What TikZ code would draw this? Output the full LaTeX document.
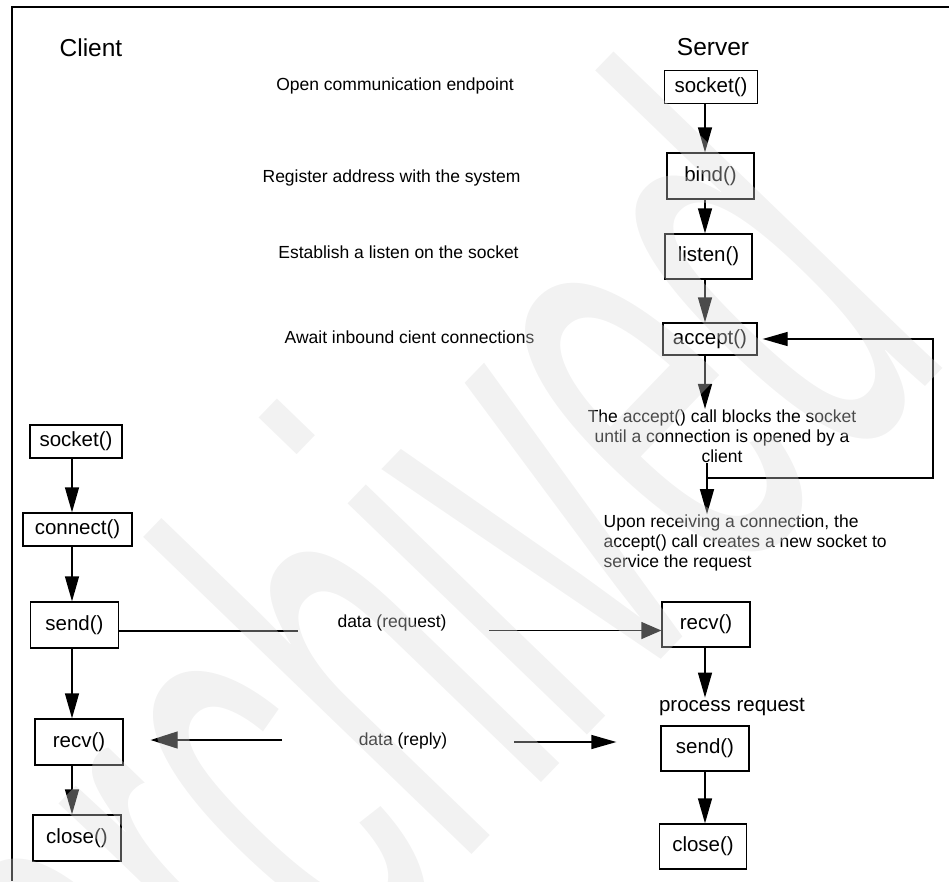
\documentclass[tikz,border=0pt]{standalone}
\usepackage{fontspec}
\setmainfont{Liberation Sans}
\usetikzlibrary{arrows.meta,calc}
\definecolor{wmark}{gray}{0.85}

\begin{document}
\begin{tikzpicture}[x=1pt,y=-1pt,line width=1.3pt,
  >={Triangle[length=25pt,width=14pt]},
  call/.style={draw,inner sep=0pt,font=\fontsize{20.5}{24}\selectfont},
  note/.style={inner sep=0pt,font=\fontsize{17.5}{20}\selectfont},
  head/.style={inner sep=0pt,font=\fontsize{24.5}{28}\selectfont}]
  \useasboundingbox (0,0) rectangle (949,881);
  \draw (949,7) -- (12,7) -- (12,881);
  \coordinate (sax) at (705,0); \coordinate (cax) at (72,0);

  % titles and notes
  \node[head] (chead) at (91,48) {Client};
  \node[head] (shead) at (713,47) {Server};
  \node[note] (n1) at (395,86) {Open communication endpoint};
  \node[note] (n2) at (391.5,178) {Register address with the system};
  \node[note] (n3) at (398.5,252) {Establish a listen on the socket};
  \node[note] (n4) at (409.5,337) {Await inbound cient connections};

  % server side
  \node[call,minimum width=93pt,minimum height=33pt] (ssock) at (711,87) {socket()};
  \node[call,minimum width=87pt,minimum height=46pt] (sbind) at (710.5,176) {bind()};
  \node[call,minimum width=87pt,minimum height=45pt] (slisten) at (708.5,256.5) {listen()};
  \node[call,minimum width=94pt,minimum height=32pt] (saccept) at (710,339) {accept()};
  \node[note,align=center] (sblock) at (722,436) {The accept() call blocks the socket\\until a connection is opened by a\\client};
  \node[note,align=left,anchor=west] (snew) at (603,543) {Upon receiving a connection, the\\accept() call creates a new socket to\\service the request};
  \node[call,minimum width=88pt,minimum height=45pt] (srecv) at (706,624.5) {recv()};
  \node[call,draw=none] (sproc) at (732,707) {process request};
  \node[call,minimum width=88pt,minimum height=45pt] (ssend) at (705,748.5) {send()};
  \node[call,minimum width=87pt,minimum height=45pt] (sclose) at (703,846.5) {close()};

  % client side
  \node[call,minimum width=92pt,minimum height=33pt] (csock) at (76,441.5) {socket()};
  \node[call,minimum width=109pt,minimum height=33pt] (cconn) at (77.5,529.5) {connect()};
  \node[call,minimum width=88pt,minimum height=46pt] (csend) at (74.5,625) {send()};
  \node[call,minimum width=88pt,minimum height=46pt] (crecv) at (79,742) {recv()};
  \node[call,minimum width=88pt,minimum height=46pt] (cclose) at (77,838) {close()};

  \foreach \a/\b in {ssock/sbind,sbind/slisten,slisten/saccept,saccept/sblock,srecv/sproc,ssend/sclose}
    \draw[->] (\a.south -| sax) -- (\b.north -| sax);
  \foreach \a/\b in {csock/cconn,cconn/csend,csend/crecv,crecv/cclose}
    \draw[->] (\a.south -| cax) -- (\b.north -| cax);

  % loop back to accept()
  \coordinate (jn) at (707,478); \coordinate (lpr) at (933,478);
  \draw[->] (sblock.south -| jn) -- (snew.north -| jn);
  \draw[->,shorten >=5pt] (jn) -- (lpr) |- (saccept.east);

  % data exchange
  \node[note] (dreq) at (392,623) {data (request)};
  \node[note] (drep) at (403,741) {data (reply)};
  \coordinate (reqA) at (298,631); \coordinate (reqB) at (489,630.5);
  \coordinate (repA) at (282,740); \coordinate (repB) at (514,742);
  \draw ([yshift=-6pt]csend.east) -- (reqA);
  \draw[->,>={Triangle[length=20pt,width=17pt]}] (reqB) -- ([yshift=-6pt]srecv.west);
  \draw[->,>={Triangle[length=27pt,width=17pt]}] (repA) -- ([xshift=27pt,yshift=2pt]crecv.east);
  \draw[->] (repB) -- ([xshift=-44pt,yshift=6.5pt]ssend.west);

  % watermark
  \node[rotate=46,yscale=2.1,anchor=base west,inner sep=0pt,text=wmark,opacity=0.35,
    font=\fontsize{300}{300}\selectfont] (wm) at (168,1170) {archived};
\end{tikzpicture}
\end{document}
